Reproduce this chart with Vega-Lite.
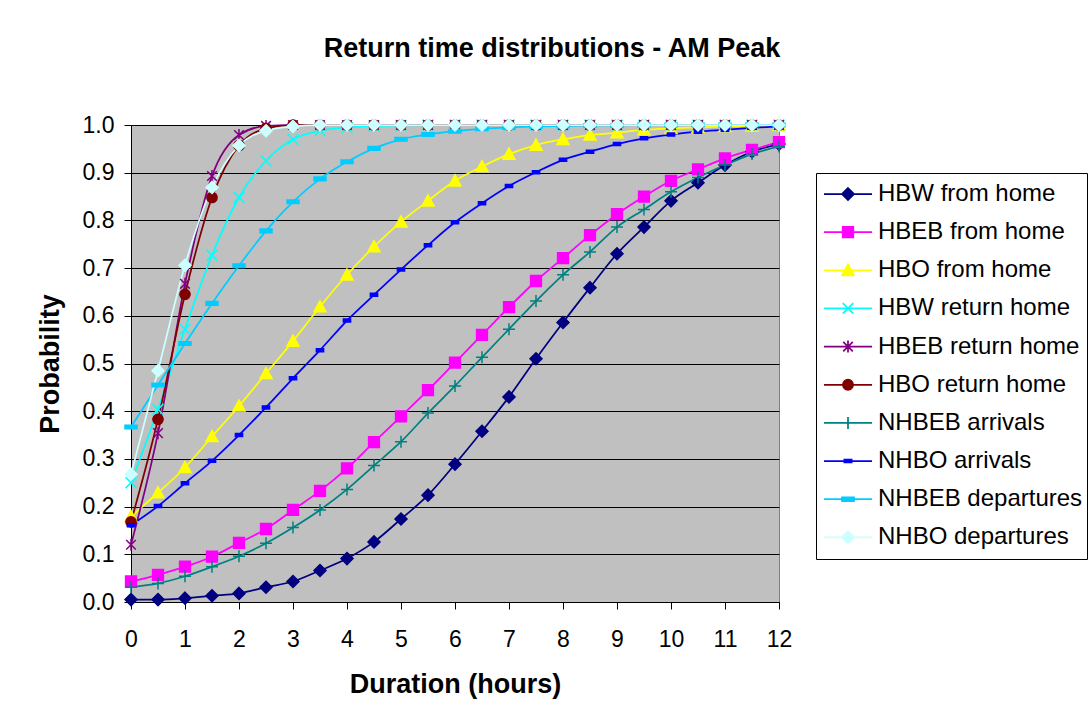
{
"$schema": "https://vega.github.io/schema/vega-lite/v6.json",
"width": 648, "height": 477,
"autosize": {"type": "none"},
"padding": {"left": 131, "top": 125, "right": 311, "bottom": 120},
"background": "white",
"title": {"text": "Return time distributions - AM Peak", "fontSize": 27, "fontWeight": "bold", "font": "Liberation Sans", "color": "black", "anchor": "middle", "frame": "group", "dx": 97, "offset": 30, "baseline": "alphabetic"},
"data": {"values": [
{"series":"HBW from home","hours":0,"p":0.005},{"series":"HBW from home","hours":0.5,"p":0.005},{"series":"HBW from home","hours":1,"p":0.008},{"series":"HBW from home","hours":1.5,"p":0.013},{"series":"HBW from home","hours":2,"p":0.018},{"series":"HBW from home","hours":2.5,"p":0.031},{"series":"HBW from home","hours":3,"p":0.043},{"series":"HBW from home","hours":3.5,"p":0.066},{"series":"HBW from home","hours":4,"p":0.091},{"series":"HBW from home","hours":4.5,"p":0.126},{"series":"HBW from home","hours":5,"p":0.174},{"series":"HBW from home","hours":5.5,"p":0.224},{"series":"HBW from home","hours":6,"p":0.289},{"series":"HBW from home","hours":6.5,"p":0.358},{"series":"HBW from home","hours":7,"p":0.43},{"series":"HBW from home","hours":7.5,"p":0.51},{"series":"HBW from home","hours":8,"p":0.586},{"series":"HBW from home","hours":8.5,"p":0.659},{"series":"HBW from home","hours":9,"p":0.73},{"series":"HBW from home","hours":9.5,"p":0.786},{"series":"HBW from home","hours":10,"p":0.841},{"series":"HBW from home","hours":10.5,"p":0.879},{"series":"HBW from home","hours":11,"p":0.916},{"series":"HBW from home","hours":11.5,"p":0.944},{"series":"HBW from home","hours":12,"p":0.96},
{"series":"HBEB from home","hours":0,"p":0.043},{"series":"HBEB from home","hours":0.5,"p":0.057},{"series":"HBEB from home","hours":1,"p":0.074},{"series":"HBEB from home","hours":1.5,"p":0.095},{"series":"HBEB from home","hours":2,"p":0.124},{"series":"HBEB from home","hours":2.5,"p":0.153},{"series":"HBEB from home","hours":3,"p":0.193},{"series":"HBEB from home","hours":3.5,"p":0.233},{"series":"HBEB from home","hours":4,"p":0.28},{"series":"HBEB from home","hours":4.5,"p":0.335},{"series":"HBEB from home","hours":5,"p":0.389},{"series":"HBEB from home","hours":5.5,"p":0.444},{"series":"HBEB from home","hours":6,"p":0.502},{"series":"HBEB from home","hours":6.5,"p":0.56},{"series":"HBEB from home","hours":7,"p":0.618},{"series":"HBEB from home","hours":7.5,"p":0.673},{"series":"HBEB from home","hours":8,"p":0.721},{"series":"HBEB from home","hours":8.5,"p":0.769},{"series":"HBEB from home","hours":9,"p":0.813},{"series":"HBEB from home","hours":9.5,"p":0.85},{"series":"HBEB from home","hours":10,"p":0.883},{"series":"HBEB from home","hours":10.5,"p":0.907},{"series":"HBEB from home","hours":11,"p":0.93},{"series":"HBEB from home","hours":11.5,"p":0.948},{"series":"HBEB from home","hours":12,"p":0.964},
{"series":"HBO from home","hours":0,"p":0.179},{"series":"HBO from home","hours":0.5,"p":0.229},{"series":"HBO from home","hours":1,"p":0.282},{"series":"HBO from home","hours":1.5,"p":0.347},{"series":"HBO from home","hours":2,"p":0.411},{"series":"HBO from home","hours":2.5,"p":0.479},{"series":"HBO from home","hours":3,"p":0.547},{"series":"HBO from home","hours":3.5,"p":0.619},{"series":"HBO from home","hours":4,"p":0.686},{"series":"HBO from home","hours":4.5,"p":0.745},{"series":"HBO from home","hours":5,"p":0.797},{"series":"HBO from home","hours":5.5,"p":0.841},{"series":"HBO from home","hours":6,"p":0.883},{"series":"HBO from home","hours":6.5,"p":0.913},{"series":"HBO from home","hours":7,"p":0.939},{"series":"HBO from home","hours":7.5,"p":0.958},{"series":"HBO from home","hours":8,"p":0.97},{"series":"HBO from home","hours":8.5,"p":0.979},{"series":"HBO from home","hours":9,"p":0.984},{"series":"HBO from home","hours":9.5,"p":0.99},{"series":"HBO from home","hours":10,"p":0.993},{"series":"HBO from home","hours":10.5,"p":0.995},{"series":"HBO from home","hours":11,"p":0.997},{"series":"HBO from home","hours":11.5,"p":0.998},{"series":"HBO from home","hours":12,"p":0.999},
{"series":"HBW return home","hours":0,"p":0.25},{"series":"HBW return home","hours":0.5,"p":0.404},{"series":"HBW return home","hours":1,"p":0.572},{"series":"HBW return home","hours":1.5,"p":0.727},{"series":"HBW return home","hours":2,"p":0.848},{"series":"HBW return home","hours":2.5,"p":0.925},{"series":"HBW return home","hours":3,"p":0.97},{"series":"HBW return home","hours":3.5,"p":0.988},{"series":"HBW return home","hours":4,"p":0.995},{"series":"HBW return home","hours":4.5,"p":0.998},{"series":"HBW return home","hours":5,"p":0.999},{"series":"HBW return home","hours":5.5,"p":1},{"series":"HBW return home","hours":6,"p":1},{"series":"HBW return home","hours":6.5,"p":1},{"series":"HBW return home","hours":7,"p":1},{"series":"HBW return home","hours":7.5,"p":1},{"series":"HBW return home","hours":8,"p":1},{"series":"HBW return home","hours":8.5,"p":1},{"series":"HBW return home","hours":9,"p":1},{"series":"HBW return home","hours":9.5,"p":1},{"series":"HBW return home","hours":10,"p":1},{"series":"HBW return home","hours":10.5,"p":1},{"series":"HBW return home","hours":11,"p":1},{"series":"HBW return home","hours":11.5,"p":1},{"series":"HBW return home","hours":12,"p":1},
{"series":"HBEB return home","hours":0,"p":0.12},{"series":"HBEB return home","hours":0.5,"p":0.354},{"series":"HBEB return home","hours":1,"p":0.667},{"series":"HBEB return home","hours":1.5,"p":0.893},{"series":"HBEB return home","hours":2,"p":0.979},{"series":"HBEB return home","hours":2.5,"p":0.998},{"series":"HBEB return home","hours":3,"p":1},{"series":"HBEB return home","hours":3.5,"p":1},{"series":"HBEB return home","hours":4,"p":1},{"series":"HBEB return home","hours":4.5,"p":1},{"series":"HBEB return home","hours":5,"p":1},{"series":"HBEB return home","hours":5.5,"p":1},{"series":"HBEB return home","hours":6,"p":1},{"series":"HBEB return home","hours":6.5,"p":1},{"series":"HBEB return home","hours":7,"p":1},{"series":"HBEB return home","hours":7.5,"p":1},{"series":"HBEB return home","hours":8,"p":1},{"series":"HBEB return home","hours":8.5,"p":1},{"series":"HBEB return home","hours":9,"p":1},{"series":"HBEB return home","hours":9.5,"p":1},{"series":"HBEB return home","hours":10,"p":1},{"series":"HBEB return home","hours":10.5,"p":1},{"series":"HBEB return home","hours":11,"p":1},{"series":"HBEB return home","hours":11.5,"p":1},{"series":"HBEB return home","hours":12,"p":1},
{"series":"HBO return home","hours":0,"p":0.168},{"series":"HBO return home","hours":0.5,"p":0.383},{"series":"HBO return home","hours":1,"p":0.645},{"series":"HBO return home","hours":1.5,"p":0.848},{"series":"HBO return home","hours":2,"p":0.957},{"series":"HBO return home","hours":2.5,"p":0.993},{"series":"HBO return home","hours":3,"p":1},{"series":"HBO return home","hours":3.5,"p":1},{"series":"HBO return home","hours":4,"p":1},{"series":"HBO return home","hours":4.5,"p":1},{"series":"HBO return home","hours":5,"p":1},{"series":"HBO return home","hours":5.5,"p":1},{"series":"HBO return home","hours":6,"p":1},{"series":"HBO return home","hours":6.5,"p":1},{"series":"HBO return home","hours":7,"p":1},{"series":"HBO return home","hours":7.5,"p":1},{"series":"HBO return home","hours":8,"p":1},{"series":"HBO return home","hours":8.5,"p":1},{"series":"HBO return home","hours":9,"p":1},{"series":"HBO return home","hours":9.5,"p":1},{"series":"HBO return home","hours":10,"p":1},{"series":"HBO return home","hours":10.5,"p":1},{"series":"HBO return home","hours":11,"p":1},{"series":"HBO return home","hours":11.5,"p":1},{"series":"HBO return home","hours":12,"p":1},
{"series":"NHBEB arrivals","hours":0,"p":0.031},{"series":"NHBEB arrivals","hours":0.5,"p":0.039},{"series":"NHBEB arrivals","hours":1,"p":0.054},{"series":"NHBEB arrivals","hours":1.5,"p":0.074},{"series":"NHBEB arrivals","hours":2,"p":0.096},{"series":"NHBEB arrivals","hours":2.5,"p":0.123},{"series":"NHBEB arrivals","hours":3,"p":0.156},{"series":"NHBEB arrivals","hours":3.5,"p":0.193},{"series":"NHBEB arrivals","hours":4,"p":0.236},{"series":"NHBEB arrivals","hours":4.5,"p":0.286},{"series":"NHBEB arrivals","hours":5,"p":0.336},{"series":"NHBEB arrivals","hours":5.5,"p":0.396},{"series":"NHBEB arrivals","hours":6,"p":0.453},{"series":"NHBEB arrivals","hours":6.5,"p":0.513},{"series":"NHBEB arrivals","hours":7,"p":0.572},{"series":"NHBEB arrivals","hours":7.5,"p":0.631},{"series":"NHBEB arrivals","hours":8,"p":0.686},{"series":"NHBEB arrivals","hours":8.5,"p":0.734},{"series":"NHBEB arrivals","hours":9,"p":0.786},{"series":"NHBEB arrivals","hours":9.5,"p":0.823},{"series":"NHBEB arrivals","hours":10,"p":0.86},{"series":"NHBEB arrivals","hours":10.5,"p":0.89},{"series":"NHBEB arrivals","hours":11,"p":0.916},{"series":"NHBEB arrivals","hours":11.5,"p":0.939},{"series":"NHBEB arrivals","hours":12,"p":0.955},
{"series":"NHBO arrivals","hours":0,"p":0.161},{"series":"NHBO arrivals","hours":0.5,"p":0.201},{"series":"NHBO arrivals","hours":1,"p":0.249},{"series":"NHBO arrivals","hours":1.5,"p":0.296},{"series":"NHBO arrivals","hours":2,"p":0.35},{"series":"NHBO arrivals","hours":2.5,"p":0.408},{"series":"NHBO arrivals","hours":3,"p":0.469},{"series":"NHBO arrivals","hours":3.5,"p":0.528},{"series":"NHBO arrivals","hours":4,"p":0.59},{"series":"NHBO arrivals","hours":4.5,"p":0.644},{"series":"NHBO arrivals","hours":5,"p":0.697},{"series":"NHBO arrivals","hours":5.5,"p":0.748},{"series":"NHBO arrivals","hours":6,"p":0.796},{"series":"NHBO arrivals","hours":6.5,"p":0.836},{"series":"NHBO arrivals","hours":7,"p":0.872},{"series":"NHBO arrivals","hours":7.5,"p":0.901},{"series":"NHBO arrivals","hours":8,"p":0.927},{"series":"NHBO arrivals","hours":8.5,"p":0.944},{"series":"NHBO arrivals","hours":9,"p":0.96},{"series":"NHBO arrivals","hours":9.5,"p":0.972},{"series":"NHBO arrivals","hours":10,"p":0.98},{"series":"NHBO arrivals","hours":10.5,"p":0.986},{"series":"NHBO arrivals","hours":11,"p":0.99},{"series":"NHBO arrivals","hours":11.5,"p":0.994},{"series":"NHBO arrivals","hours":12,"p":0.997},
{"series":"NHBEB departures","hours":0,"p":0.367},{"series":"NHBEB departures","hours":0.5,"p":0.455},{"series":"NHBEB departures","hours":1,"p":0.542},{"series":"NHBEB departures","hours":1.5,"p":0.626},{"series":"NHBEB departures","hours":2,"p":0.705},{"series":"NHBEB departures","hours":2.5,"p":0.778},{"series":"NHBEB departures","hours":3,"p":0.839},{"series":"NHBEB departures","hours":3.5,"p":0.887},{"series":"NHBEB departures","hours":4,"p":0.923},{"series":"NHBEB departures","hours":4.5,"p":0.951},{"series":"NHBEB departures","hours":5,"p":0.97},{"series":"NHBEB departures","hours":5.5,"p":0.98},{"series":"NHBEB departures","hours":6,"p":0.987},{"series":"NHBEB departures","hours":6.5,"p":0.992},{"series":"NHBEB departures","hours":7,"p":0.995},{"series":"NHBEB departures","hours":7.5,"p":0.997},{"series":"NHBEB departures","hours":8,"p":0.998},{"series":"NHBEB departures","hours":8.5,"p":0.999},{"series":"NHBEB departures","hours":9,"p":0.999},{"series":"NHBEB departures","hours":9.5,"p":1},{"series":"NHBEB departures","hours":10,"p":1},{"series":"NHBEB departures","hours":10.5,"p":1},{"series":"NHBEB departures","hours":11,"p":1},{"series":"NHBEB departures","hours":11.5,"p":1},{"series":"NHBEB departures","hours":12,"p":1},
{"series":"NHBO departures","hours":0,"p":0.268},{"series":"NHBO departures","hours":0.5,"p":0.485},{"series":"NHBO departures","hours":1,"p":0.706},{"series":"NHBO departures","hours":1.5,"p":0.869},{"series":"NHBO departures","hours":2,"p":0.957},{"series":"NHBO departures","hours":2.5,"p":0.988},{"series":"NHBO departures","hours":3,"p":0.997},{"series":"NHBO departures","hours":3.5,"p":1},{"series":"NHBO departures","hours":4,"p":1},{"series":"NHBO departures","hours":4.5,"p":1},{"series":"NHBO departures","hours":5,"p":1},{"series":"NHBO departures","hours":5.5,"p":1},{"series":"NHBO departures","hours":6,"p":1},{"series":"NHBO departures","hours":6.5,"p":1},{"series":"NHBO departures","hours":7,"p":1},{"series":"NHBO departures","hours":7.5,"p":1},{"series":"NHBO departures","hours":8,"p":1},{"series":"NHBO departures","hours":8.5,"p":1},{"series":"NHBO departures","hours":9,"p":1},{"series":"NHBO departures","hours":9.5,"p":1},{"series":"NHBO departures","hours":10,"p":1},{"series":"NHBO departures","hours":10.5,"p":1},{"series":"NHBO departures","hours":11,"p":1},{"series":"NHBO departures","hours":11.5,"p":1},{"series":"NHBO departures","hours":12,"p":1}
]},
"encoding": {
  "x": {"field": "hours", "type": "quantitative", "scale": {"domain": [0, 12], "nice": false, "zero": false},
        "axis": {"title": "Duration (hours)", "values": [0,1,2,3,4,5,6,7,8,9,10,11,12], "format": "d", "grid": false, "labelFontSize": 23, "labelPadding": 19, "tickSize": 7, "labelFlush": false, "labelOverlap": false, "titleFontSize": 27, "titleFontWeight": "bold", "titlePadding": 20}},
  "y": {"field": "p", "type": "quantitative", "scale": {"domain": [0, 1], "nice": false},
        "axis": {"title": "Probability", "values": [0,0.1,0.2,0.3,0.4,0.5,0.6,0.7,0.8,0.9,1], "format": ".1f", "grid": true, "gridColor": "black", "gridOpacity": 1, "labelFontSize": 23, "labelPadding": 10, "tickSize": 7, "labelFlush": false, "labelOverlap": false, "titleFontSize": 27, "titleFontWeight": "bold", "titlePadding": 18}}
},
"layer": [
  {
    "mark": {"type": "line", "interpolate": "monotone", "strokeWidth": 1.75},
    "encoding": {
      "color": {"field": "series", "type": "nominal", "legend": null,
        "scale": {"domain": ["HBW from home","HBEB from home","HBO from home","HBW return home","HBEB return home","HBO return home","NHBEB arrivals","NHBO arrivals","NHBEB departures","NHBO departures"],
                  "range": ["#000080","#ff00ff","#ffff00","#00ffff","#800080","#800000","#008080","#0000ff","#00ccff","#ccffff"]}}
    }
  },
  {
    "mark": {"type": "point", "filled": true, "opacity": 1, "size": 144, "strokeWidth": 1.5},
    "encoding": {
      "color": {"field": "series", "type": "nominal", "legend": null,
        "scale": {"domain": ["HBW from home","HBEB from home","HBO from home","HBW return home","HBEB return home","HBO return home","NHBEB arrivals","NHBO arrivals","NHBEB departures","NHBO departures"],
                  "range": ["#000080","#ff00ff","#ffff00","#00ffff","#800080","#800000","#008080","#0000ff","#00ccff","#ccffff"]}},
      "stroke": {"field": "series", "type": "nominal", "legend": null,
        "scale": {"domain": ["HBW from home","HBEB from home","HBO from home","HBW return home","HBEB return home","HBO return home","NHBEB arrivals","NHBO arrivals","NHBEB departures","NHBO departures"],
                  "range": ["#000080","#ff00ff","#ffff00","#00ffff","#800080","#800000","#008080","#0000ff","#00ccff","#ccffff"]}},
      "shape": {"field": "series", "type": "nominal", "legend": null,
        "scale": {"domain": ["HBW from home","HBEB from home","HBO from home","HBW return home","HBEB return home","HBO return home","NHBEB arrivals","NHBO arrivals","NHBEB departures","NHBO departures"],
                  "range": ["M0,-1L1,0L0,1L-1,0Z","M-0.9,-0.9L0.9,-0.9L0.9,0.9L-0.9,0.9Z","M0,-1L1,0.85L-1,0.85Z","M-0.9,-0.9L0.9,0.9M-0.9,0.9L0.9,-0.9","M-0.8,-0.8L0.8,0.8M-0.8,0.8L0.8,-0.8M0,-1L0,1","M-0.85,0A0.85,0.85,0,1,1,0.85,0A0.85,0.85,0,1,1,-0.85,0Z","M-1,0L1,0M0,-1L0,1","M-0.6,-0.25L0.6,-0.25L0.6,0.25L-0.6,0.25Z","M-1,-0.3L1,-0.3L1,0.3L-1,0.3Z","M0,-1L1,0L0,1L-1,0Z"]}}
    }
  },
  {
    "mark": {"type": "point", "filled": true, "opacity": 0, "size": 2304, "strokeWidth": 1.75},
    "encoding": {
      "color": {"field": "series", "type": "nominal",
        "legend": {"title": null, "orient": "none", "legendX": 685, "legendY": 48, "symbolOpacity": 1, "symbolSize": 2304, "symbolStrokeWidth": 1.75},
        "scale": {"domain": ["HBW from home","HBEB from home","HBO from home","HBW return home","HBEB return home","HBO return home","NHBEB arrivals","NHBO arrivals","NHBEB departures","NHBO departures"],
                  "range": ["#000080","#ff00ff","#ffff00","#00ffff","#800080","#800000","#008080","#0000ff","#00ccff","#ccffff"]}},
      "stroke": {"field": "series", "type": "nominal",
        "legend": {"title": null, "orient": "none", "legendX": 685, "legendY": 48, "symbolOpacity": 1, "symbolSize": 2304, "symbolStrokeWidth": 1.75},
        "scale": {"domain": ["HBW from home","HBEB from home","HBO from home","HBW return home","HBEB return home","HBO return home","NHBEB arrivals","NHBO arrivals","NHBEB departures","NHBO departures"],
                  "range": ["#000080","#ff00ff","#ffff00","#00ffff","#800080","#800000","#008080","#0000ff","#00ccff","#ccffff"]}},
      "shape": {"field": "series", "type": "nominal",
        "legend": {"title": null, "orient": "none", "legendX": 685, "legendY": 48, "symbolOpacity": 1, "symbolSize": 2304, "symbolStrokeWidth": 1.75},
        "scale": {"domain": ["HBW from home","HBEB from home","HBO from home","HBW return home","HBEB return home","HBO return home","NHBEB arrivals","NHBO arrivals","NHBEB departures","NHBO departures"],
                  "range": ["M-1,0L1,0M0,-0.25L0.25,0L0,0.25L-0.25,0Z","M-1,0L1,0M-0.22,-0.22L0.22,-0.22L0.22,0.22L-0.22,0.22Z","M-1,0L1,0M0,-0.25L0.25,0.21L-0.25,0.21Z","M-1,0L1,0M-0.22,-0.22L0.22,0.22M-0.22,0.22L0.22,-0.22","M-1,0L1,0M-0.2,-0.2L0.2,0.2M-0.2,0.2L0.2,-0.2M0,-0.25L0,0.25","M-1,0L1,0M-0.21,0A0.21,0.21,0,1,1,0.21,0A0.21,0.21,0,1,1,-0.21,0Z","M-1,0L1,0M0,-0.25L0,0.25","M-1,0L1,0M-0.15,-0.06L0.15,-0.06L0.15,0.06L-0.15,0.06Z","M-1,0L1,0M-0.25,-0.08L0.25,-0.08L0.25,0.08L-0.25,0.08Z","M-1,0L1,0M0,-0.25L0.25,0L0,0.25L-0.25,0Z"]}}
    }
  }
],
"resolve": {"scale": {"color": "independent", "stroke": "independent", "shape": "independent"}},
"config": {
  "font": "Liberation Sans",
  "view": {"fill": "#c0c0c0", "stroke": "#808080", "strokeWidth": 1},
  "axis": {"domainColor": "black", "domainWidth": 1, "tickColor": "black", "tickWidth": 1, "gridWidth": 1, "labelColor": "black", "titleColor": "black", "labelFont": "Liberation Sans", "titleFont": "Liberation Sans"},
  "legend": {"labelFont": "Liberation Sans", "labelFontSize": 24, "labelColor": "black", "labelLimit": 400, "padding": 4, "strokeColor": "black", "fillColor": "white", "clipHeight": 34, "rowPadding": 4.15, "symbolOffset": 3, "labelOffset": 5}
}
}
